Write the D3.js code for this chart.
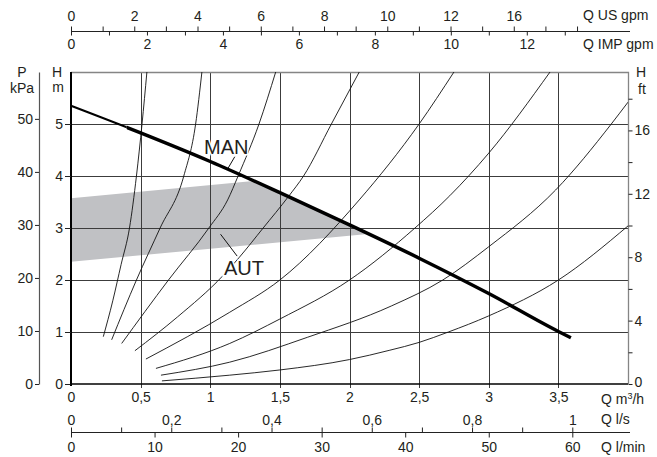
<!DOCTYPE html>
<html>
<head>
<meta charset="utf-8">
<script src="https://cdn.jsdelivr.net/npm/d3@7"></script>
<style>
  body { margin: 0; background: #fff; }
  text { font-family: "Liberation Sans", Arial, sans-serif; fill: #231f20; }
</style>
</head>
<body>
<div id="chart"></div>
<script>

// pump curve, flow Q in m3/h and head H in m
var manCurve = [[0,5.35],[0.5,4.83],[1.0,4.28],[1.5,3.68],[2.0,3.06],[2.5,2.42],[3.0,1.74],[3.5,1.01],[3.59,0.89]];

// AUT area (grey band), closed along the MAN curve
var autBand = [[0,3.57],[1.33,3.91],[1.5,3.68],[2.0,3.06],[2.15,2.89],[0,2.35]];

// thin system curves
var sys1 = [[0.232,0.91],[0.30,1.6],[0.36,2.3],[0.42,3.0],[0.47,4.0],[0.51,5.0],[0.545,6.0]];
var sys2 = [[0.292,0.85],[0.47,2.0],[0.64,3.0],[0.81,4.0],[0.895,5.0],[0.94,6.0]];
var sys3 = [[0.364,0.78],[0.70,2.0],[0.99,3.0],[1.125,3.54],[1.20,4.0],[1.35,5.0],[1.47,6.0]];
var sys4 = [[0.459,0.64],[0.765,1.29],[1.09,2.08],[1.21,2.44],[1.38,3.0],[1.56,3.6],[1.67,4.0],[1.87,5.0],[2.07,6.0]];
var sys5 = [[0.538,0.48],[1.14,1.38],[1.5,2.0],[2.07,3.54],[2.5,5.0],[2.75,6.0]];
var sys6 = [[0.61,0.30],[1.14,0.78],[1.5,1.25],[2.0,2.0],[2.47,3.0],[2.72,3.62],[3.0,4.44],[3.44,6.0]];
var sys7 = [[0.646,0.17],[1.14,0.42],[1.7,0.9],[2.3,1.5],[2.67,2.0],[3.0,2.64],[3.48,3.73],[3.88,5.0],[4.0,5.42]];
var sys8 = [[0.653,0.06],[1.14,0.17],[1.5,0.27],[2.0,0.47],[2.29,0.65],[2.5,0.8],[2.71,1.0],[3.0,1.31],[3.5,2.0],[4.0,3.04]];
var systemCurves = [sys1, sys2, sys3, sys4, sys5, sys6, sys7, sys8];

// leader lines for the labels
var manLeader = [[1.128,4.15],[1.176,4.37]];
var autLeader = [[1.074,2.88],[1.193,2.46]];

// tick values and labels
var qTicks = [0, 0.5, 1, 1.5, 2, 2.5, 3, 3.5];
var qLabels = ["0", "0,5", "1", "1,5", "2", "2,5", "3", "3,5"];
var hTicks = [0, 1, 2, 3, 4, 5];
var kpaTicks = [0, 10, 20, 30, 40, 50];
var ftTicks = [0, 2, 4, 6, 8, 10, 12, 14, 16, 18];
var ftLabels = ["0", "", "4", "", "8", "", "12", "", "16", ""];
var usTicks = d3.range(0, 17);
var usLabelAt = [0, 2, 4, 6, 8, 10, 12, 14];
var usLabels = ["0", "2", "4", "6", "8", "10", "12", "16"];
var impTicks = d3.range(0, 14);
var impLabelAt = [0, 2, 4, 6, 8, 10, 12];
var lsTicks = [0, 0.1, 0.2, 0.3, 0.4, 0.5, 0.6, 0.7, 0.8, 0.9, 1];
var lsLabels = ["0", "", "0,2", "", "0,4", "", "0,6", "", "0,8", "", "1"];
var lminTicks = [0, 10, 20, 30, 40, 50, 60];

var width = 657, height = 457;
var fs = 14;
var svg = d3.select("#chart").append("svg")
  .attr("width", width)
  .attr("height", height);

var x = d3.scaleLinear().domain([0, 4]).range([71, 628]);
var y = d3.scaleLinear().domain([0, 6]).range([384, 72]);

// secondary scales (unit conversions of the same frame)
var yKpa = d3.scaleLinear().domain([0, 6 * 9.80665]).range([384, 72]);
var yFt = d3.scaleLinear().domain([0, 6 / 0.3048]).range([384, 72]);
var xUs = d3.scaleLinear().domain([0, 4 * 4.40287]).range([71, 628]);
var xImp = d3.scaleLinear().domain([0, 4 * 3.66615]).range([71, 628]);
var xLs = d3.scaleLinear().domain([0, 4 / 3.6]).range([71, 628]);
var xLmin = d3.scaleLinear().domain([0, 4 / 0.06]).range([71, 628]);

var line = d3.line()
  .x(function(d) { return x(d[0]); })
  .y(function(d) { return y(d[1]); });
var smooth = d3.line()
  .x(function(d) { return x(d[0]); })
  .y(function(d) { return y(d[1]); })
  .curve(d3.curveMonotoneX);

// clips
svg.append("clipPath").attr("id", "plot")
  .append("rect").attr("x", 71).attr("y", 72).attr("width", 557).attr("height", 312);
svg.append("clipPath").attr("id", "manA")
  .append("rect").attr("x", 0).attr("y", 0).attr("width", x(0.4)).attr("height", 457);
svg.append("clipPath").attr("id", "manB")
  .append("rect").attr("x", x(0.4)).attr("y", 0).attr("width", 657).attr("height", 457);

// grey AUT band
svg.append("path")
  .datum(autBand)
  .attr("d", d3.line().x(function(d) { return x(d[0]); }).y(function(d) { return y(d[1]); })
    .curve(d3.curveLinearClosed))
  .attr("fill", "#c0c1c4");

// grid
var grid = svg.append("g").attr("stroke", "#3c3c3c").attr("stroke-width", 1);
grid.selectAll(".vx").data(qTicks.slice(1)).enter().append("line")
  .attr("x1", function(d) { return Math.round(x(d)) + 0.5; })
  .attr("x2", function(d) { return Math.round(x(d)) + 0.5; })
  .attr("y1", y(6)).attr("y2", y(0) + 4);
grid.selectAll(".hy").data(hTicks.slice(1)).enter().append("line")
  .attr("x1", x(0) - 6).attr("x2", x(4))
  .attr("y1", function(d) { return Math.round(y(d)) + 0.5; })
  .attr("y2", function(d) { return Math.round(y(d)) + 0.5; });

// frame top / right
svg.append("path")
  .attr("d", "M" + x(0) + "," + (y(6) + 0.5) + "H" + (x(4) + 0.5) + "V" + y(0))
  .attr("fill", "none").attr("stroke", "#858585").attr("stroke-width", 1.3);

// system curves
svg.append("g").attr("clip-path", "url(#plot)")
  .selectAll("path").data(systemCurves).enter().append("path")
  .attr("d", smooth)
  .attr("fill", "none").attr("stroke", "#111").attr("stroke-width", 0.9);

// MAN curve (thinner at its start)
svg.append("path").datum(manCurve).attr("d", smooth).attr("clip-path", "url(#manA)")
  .attr("fill", "none").attr("stroke", "#000").attr("stroke-width", 2);
svg.append("path").datum(manCurve).attr("d", smooth).attr("clip-path", "url(#manB)")
  .attr("fill", "none").attr("stroke", "#000").attr("stroke-width", 3.4);

// labels with white halo
svg.append("text").attr("x", 204).attr("y", 154).text("MAN")
  .attr("font-size", 20).attr("stroke", "#fff").attr("stroke-width", 3)
  .attr("paint-order", "stroke");
svg.append("text").attr("x", 224).attr("y", 275).text("AUT")
  .attr("font-size", 20).attr("stroke", "#fff").attr("stroke-width", 3)
  .attr("paint-order", "stroke");
[manLeader, autLeader].forEach(function(l) {
  svg.append("path").datum(l).attr("d", line)
    .attr("fill", "none").attr("stroke", "#111").attr("stroke-width", 1);
});

// axes
function styleAxis(g) {
  g.select(".domain").attr("stroke", "#222");
  g.selectAll(".tick line").attr("stroke", "#222");
  g.selectAll(".tick text").attr("font-size", fs)
    .attr("font-family", '"Liberation Sans", Arial, sans-serif').attr("fill", "#231f20");
}

// left H m axis
var gH = svg.append("g").attr("transform", "translate(" + x(0) + ",0)")
  .call(d3.axisLeft(y).tickValues(hTicks).tickSize(6).tickSizeOuter(0).tickPadding(2)
    .tickFormat(d3.format("d")));
styleAxis(gH);
gH.select(".domain").attr("stroke", "#000").attr("stroke-width", 2).attr("d", "M0,72V386");

// left kPa axis
var gK = svg.append("g").attr("transform", "translate(39,0)")
  .call(d3.axisLeft(yKpa).tickValues(kpaTicks).tickSize(4).tickSizeOuter(0).tickPadding(2));
styleAxis(gK);
gK.select(".domain").attr("stroke", "#555").attr("stroke-width", 1.2);

// right ft axis
var gF = svg.append("g").attr("transform", "translate(" + (x(4) + 0.5) + ",0)")
  .call(d3.axisRight(yFt).tickValues(ftTicks).tickSize(4).tickSizeOuter(0).tickPadding(2)
    .tickFormat(function(d, i) { return ftLabels[i]; }));
styleAxis(gF);
gF.select(".domain").remove();
gF.selectAll(".tick text").filter(function(d) { return d === 0; }).attr("dy", "0.2em");

// bottom m3/h axis
var gQ = svg.append("g").attr("transform", "translate(0," + y(0) + ")")
  .call(d3.axisBottom(x).tickValues(qTicks).tickSize(0).tickSizeOuter(0).tickPadding(8)
    .tickFormat(function(d, i) { return qLabels[i]; }));
styleAxis(gQ);
gQ.select(".domain").attr("stroke", "#000").attr("stroke-width", 1.5).attr("d", "M70,0H628");

// top gpm axes
var gUs = svg.append("g").attr("transform", "translate(0,31.5)")
  .call(d3.axisTop(xUs).tickValues(usTicks).tickSize(5).tickSizeOuter(0).tickPadding(6)
    .tickFormat(function(d) { var i = usLabelAt.indexOf(d); return i < 0 ? "" : usLabels[i]; }));
styleAxis(gUs);
gUs.select(".domain").attr("d", "M71,0H630");
var gImp = svg.append("g").attr("transform", "translate(0,31.5)")
  .call(d3.axisBottom(xImp).tickValues(impTicks).tickSize(4).tickSizeOuter(0).tickPadding(4)
    .tickFormat(function(d) { return impLabelAt.indexOf(d) < 0 ? "" : String(d); }));
styleAxis(gImp);
gImp.select(".domain").remove();

// bottom l/s and l/min axes
var gLs = svg.append("g").attr("transform", "translate(0,432.5)")
  .call(d3.axisTop(xLs).tickValues(lsTicks).tickSize(5).tickSizeOuter(0).tickPadding(3)
    .tickFormat(function(d, i) { return lsLabels[i]; }));
styleAxis(gLs);
gLs.select(".domain").attr("d", "M71,0H630");
var gLm = svg.append("g").attr("transform", "translate(0,432.5)")
  .call(d3.axisBottom(xLmin).tickValues(lminTicks).tickSize(5).tickSizeOuter(0).tickPadding(5));
styleAxis(gLm);
gLm.select(".domain").remove();

// unit titles
var titles = [
  { t: "Q US gpm", x: 583, y: 20 },
  { t: "Q IMP gpm", x: 583, y: 49 },
  { t: "Q l/s", x: 601, y: 424 },
  { t: "Q l/min", x: 601, y: 452 },
  { t: "P", x: 22, y: 77, a: "middle" },
  { t: "kPa", x: 22, y: 93, a: "middle" },
  { t: "H", x: 57, y: 77, a: "middle" },
  { t: "m", x: 58, y: 92, a: "middle" },
  { t: "H", x: 641, y: 77, a: "middle" },
  { t: "ft", x: 642, y: 94, a: "middle" }
];
svg.selectAll(".unit").data(titles).enter().append("text")
  .attr("x", function(d) { return d.x; })
  .attr("y", function(d) { return d.y; })
  .attr("text-anchor", function(d) { return d.a || "start"; })
  .attr("font-size", fs)
  .text(function(d) { return d.t; });

var qm = svg.append("text").attr("x", 601).attr("y", 404).attr("font-size", fs);
qm.append("tspan").text("Q m");
qm.append("tspan").text("3").attr("font-size", 9).attr("dy", -5);
qm.append("tspan").text("/h").attr("dy", 5);

</script>
</body>
</html>
